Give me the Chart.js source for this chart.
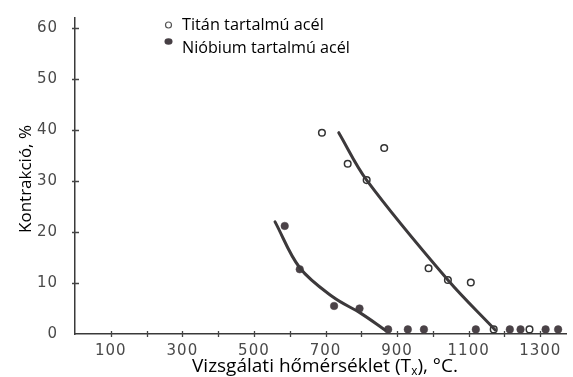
<!DOCTYPE html>
<html>
<head>
<meta charset="utf-8">
<script src="https://cdn.jsdelivr.net/npm/chart.js@4/dist/chart.umd.min.js"></script>
<style>
  html, body { margin: 0; padding: 0; background: #fff; }
  #wrap { width: 573px; height: 377px; }
</style>
</head>
<body>
<div id="wrap"><canvas id="c" width="573" height="377"></canvas></div>
<script>
// Measured points: test temperature (°C) and reduction of area (%)
const titanTemp = [690, 762, 815, 864, 988, 1042, 1106, 1170, 1270];
const titanContr = [39.5, 33.4, 30.2, 36.5, 12.9, 10.6, 10.1, 0.9, 0.9];
const niobTemp = [586, 628, 724, 795, 875, 930, 975, 1120, 1215, 1245, 1315, 1350];
const niobContr = [21.2, 12.7, 5.5, 5.0, 0.9, 0.9, 0.9, 0.9, 0.9, 0.9, 0.9, 0.9];

// Hand-drawn trend curves through each series
const titanCurveTemp = [737, 815, 1042, 1174];
const titanCurveContr = [39.5, 30.2, 10.6, 0.8];
const niobCurveTemp = [559, 628, 720, 800, 866];
const niobCurveContr = [22.0, 13.0, 7.3, 4.0, 0.8];

// Axis ticks
const xTickValues = [100, 200, 300, 400, 500, 600, 700, 800, 900, 1000, 1100, 1200, 1300];
const xLabelValues = [100, 300, 500, 700, 900, 1100, 1300];
const yTickValues = [0, 10, 20, 30, 40, 50, 60];

const legendLabels = ['Titán tartalmú acél', 'Nióbium tartalmú acél'];
const yTitle = 'Kontrakció, %';
const xTitleParts = ['Vizsgálati hőmérséklet (T', 'x', '), °C.'];

const toXY = (xs, ys) => xs.map((x, i) => ({ x, y: ys[i] }));

const INK = '#3c393b';
const TEXT_FONT = '"Open Sans", "Noto Sans", sans-serif';

function fitSize(ctx, text, family, width) {
  ctx.font = '100px ' + family;
  return 100 * width / ctx.measureText(text).width;
}

const decorPlugin = {
  id: 'decor',
  beforeDraw(chart) {
    chart.ctx.letterSpacing = '1px';
  },
  beforeDatasetsDraw(chart) {
    chart.ctx.letterSpacing = '0px';
  },
  afterDraw(chart) {
    const ctx = chart.ctx;
    const xs = chart.scales.x, ys = chart.scales.y;
    const area = chart.chartArea;
    ctx.save();
    ctx.letterSpacing = '0px';
    // small tick marks crossing the axes
    ctx.strokeStyle = '#444';
    ctx.lineWidth = 1.3;
    ctx.beginPath();
    xTickValues.forEach(v => {
      const px = Math.round(xs.getPixelForValue(v)) + 0.5;
      ctx.moveTo(px, area.bottom - 3);
      ctx.lineTo(px, area.bottom + 3);
    });
    yTickValues.slice(1).forEach(v => {
      const py = Math.round(ys.getPixelForValue(v)) + 0.5;
      ctx.moveTo(area.left - 3, py);
      ctx.lineTo(area.left + 4, py);
    });
    ctx.stroke();

    // legend
    ctx.fillStyle = '#000';
    ctx.textBaseline = 'alphabetic';
    ctx.textAlign = 'left';
    const s1 = fitSize(ctx, legendLabels[0], TEXT_FONT, 142);
    ctx.font = s1.toFixed(2) + 'px ' + TEXT_FONT;
    ctx.fillText(legendLabels[0], 182, 30);
    const s2 = fitSize(ctx, legendLabels[1], TEXT_FONT, 168);
    ctx.font = s2.toFixed(2) + 'px ' + TEXT_FONT;
    ctx.fillText(legendLabels[1], 182, 53);
    ctx.beginPath();
    ctx.arc(168.5, 25, 3, 0, Math.PI * 2);
    ctx.fillStyle = '#fff';
    ctx.fill();
    ctx.strokeStyle = '#555';
    ctx.lineWidth = 1.2;
    ctx.stroke();
    ctx.beginPath();
    ctx.ellipse(168.5, 41.5, 4, 3.2, 0, 0, Math.PI * 2);
    ctx.fillStyle = '#463f44';
    ctx.fill();

    // y axis title
    ctx.fillStyle = '#000';
    const sy = fitSize(ctx, yTitle, TEXT_FONT, 108);
    ctx.font = sy.toFixed(2) + 'px ' + TEXT_FONT;
    ctx.translate(31, 179);
    ctx.rotate(-Math.PI / 2);
    ctx.textAlign = 'center';
    ctx.fillText(yTitle, 0, 0);
    ctx.setTransform(1, 0, 0, 1, 0, 0);

    // x axis title with subscript
    ctx.textAlign = 'left';
    const base = 100;
    ctx.font = base + 'px ' + TEXT_FONT;
    const w0 = ctx.measureText(xTitleParts[0]).width;
    const w2 = ctx.measureText(xTitleParts[2]).width;
    ctx.font = (base * 0.62) + 'px ' + TEXT_FONT;
    const w1 = ctx.measureText(xTitleParts[1]).width;
    const size = base * 266 / (w0 + w1 + w2);
    const k = size / base;
    let x = 192, y = 372;
    ctx.font = size.toFixed(2) + 'px ' + TEXT_FONT;
    ctx.fillText(xTitleParts[0], x, y);
    x += w0 * k;
    ctx.font = (size * 0.62).toFixed(2) + 'px ' + TEXT_FONT;
    ctx.fillText(xTitleParts[1], x, y + size * 0.18);
    x += w1 * k;
    ctx.font = size.toFixed(2) + 'px ' + TEXT_FONT;
    ctx.fillText(xTitleParts[2], x, y);
    ctx.restore();
  }
};

new Chart(document.getElementById('c'), {
  type: 'scatter',
  data: {
    datasets: [
      {
        label: 'titan-curve',
        data: toXY(titanCurveTemp, titanCurveContr),
        showLine: true,
        borderColor: INK,
        borderWidth: 3,
        pointRadius: 0,
        tension: 0.35,
        borderCapStyle: 'round'
      },
      {
        label: 'niob-curve',
        data: toXY(niobCurveTemp, niobCurveContr),
        showLine: true,
        borderColor: INK,
        borderWidth: 3,
        pointRadius: 0,
        tension: 0.35,
        borderCapStyle: 'round'
      },
      {
        label: legendLabels[0],
        data: toXY(titanTemp, titanContr),
        pointRadius: 3.3,
        pointBackgroundColor: '#fff',
        pointBorderColor: '#333',
        pointBorderWidth: 1.5
      },
      {
        label: legendLabels[1],
        data: toXY(niobTemp, niobContr),
        pointRadius: 3.8,
        pointBackgroundColor: '#4a4247',
        pointBorderColor: '#4a4247',
        pointBorderWidth: 0.5
      }
    ]
  },
  options: {
    responsive: false,
    animation: false,
    events: [],
    layout: { padding: { top: 13, right: 7, left: 0, bottom: 0 } },
    plugins: { legend: { display: false }, tooltip: { enabled: false } },
    scales: {
      x: {
        type: 'linear',
        min: 0,
        max: 1372,
        grid: { display: false },
        border: { display: true, color: '#3a3a3a', width: 1.5 },
        afterBuildTicks: s => { s.ticks = xLabelValues.map(v => ({ value: v })); },
        afterFit: s => { s.height = 43; },
        ticks: {
          autoSkip: false,
          maxRotation: 0,
          padding: 0,
          color: '#4a4a4a',
          font: { family: '"DejaVu Sans", sans-serif', size: 15 },
          callback: v => String(v)
        }
      },
      y: {
        type: 'linear',
        min: 0,
        max: 62,
        grid: { display: false },
        border: { display: true, color: '#3a3a3a', width: 1.5 },
        afterBuildTicks: s => { s.ticks = yTickValues.map(v => ({ value: v })); },
        afterFit: s => { s.width = 75; },
        ticks: {
          autoSkip: false,
          padding: 9,
          color: '#4a4a4a',
          font: { family: '"DejaVu Sans", sans-serif', size: 15 },
          callback: v => String(v)
        }
      }
    }
  },
  plugins: [decorPlugin]
});
</script>
</body>
</html>
